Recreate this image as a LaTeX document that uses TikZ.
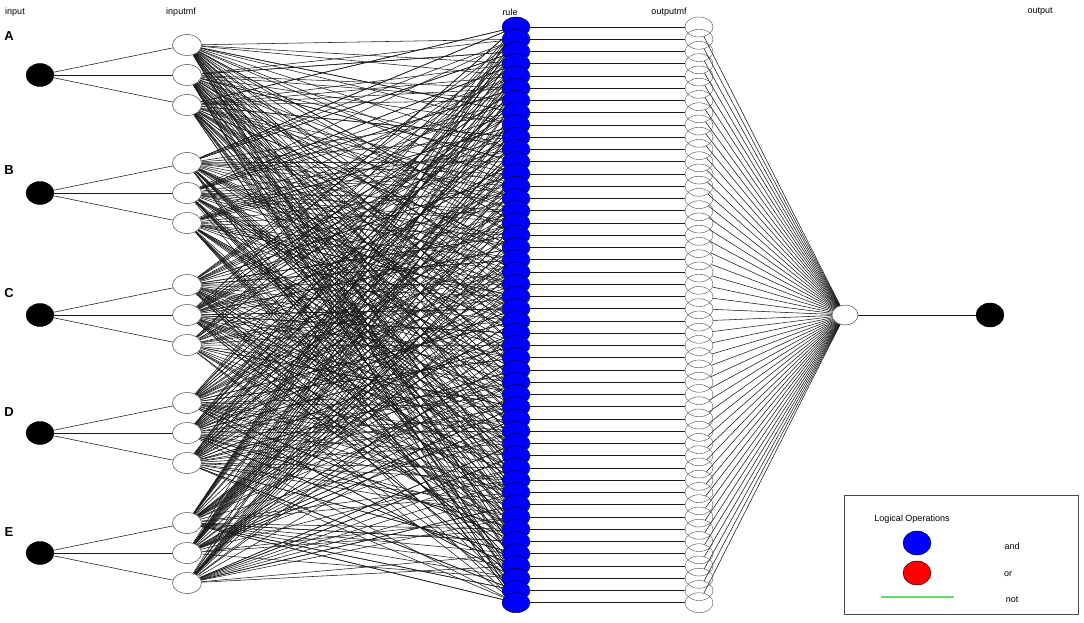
\documentclass[tikz,border=0pt]{standalone}
\usepackage{fontspec}
\setmainfont{Liberation Sans}
\usetikzlibrary{shapes.geometric,backgrounds}

\begin{document}
\begin{tikzpicture}[x=1pt,y=-1pt,
    inode/.style={ellipse,draw,fill=black,minimum width=28pt,minimum height=23pt,inner sep=0pt},
    mfnode/.style={ellipse,draw=black!70,fill=white,minimum width=29pt,minimum height=21pt,inner sep=0pt,line width=0.5pt},
    rulenode/.style={ellipse,draw=black,fill=blue,minimum width=28pt,minimum height=20pt,inner sep=0pt,line width=0.4pt},
    omfnode/.style={ellipse,draw=black!70,minimum width=28pt,minimum height=20pt,inner sep=0pt,line width=0.4pt},
    wire/.style={draw=black!90,line width=0.55pt},
    lbl/.style={font=\fontsize{9}{10}\selectfont,inner sep=0pt},
    letter/.style={font=\fontsize{13}{14}\selectfont\bfseries,inner sep=0pt}]
      \useasboundingbox (0,0) rectangle (1084,623);
      \node[lbl] (tin) at (15,12) {input};
      \node[lbl] (tinmf) at (181,12) {inputmf};
      \node[lbl] (trule) at (510,12) {rule};
      \node[lbl] (toutmf) at (669,12) {outputmf};
      \node[lbl] (tout) at (1040,12) {output};
      \foreach \n/\y/\ly [count=\i] in {A/75/36,B/193/170,C/315/293,D/433/412,E/553/532}{
        \node[inode] (in\i) at (40,\y) {};
        \node[letter] (let\i) at (9,\ly) {\n};
        \foreach \j in {1,2,3}
          \node[mfnode] (mf\i\j) at (187,\y+30*\j-60) {};
      }
      \foreach \r in {1,...,48}
        \node[rulenode] (rule\r) at (516,{14.75+12.25*\r}) {};
      \foreach \r in {1,...,48}
        \node[omfnode] (omf\r) at (699,{14.75+12.25*\r}) {};
      \node[mfnode,minimum width=26pt,minimum height=20pt] (outmf) at (845,315) {};
      \node[inode,minimum height=24pt] (out) at (990,315) {};
      \begin{pgfonlayer}{background}
        \foreach \i in {1,...,5}
          \foreach \j in {1,2,3}
            \draw[wire] (in\i) -- (mf\i\j);
        \foreach \r in {1,...,48}{
          \foreach \i in {1,...,5}{
            \pgfmathtruncatemacro\m{mod(\r*(\i+1)+int(\r/(\i+2)),3)+1}
            \pgfmathtruncatemacro\k{mod(int(\r*(\i+2)/3)+\i,3)+1}
            \draw[wire] (mf\i\m) -- (rule\r);
            \draw[wire] (mf\i\k) -- (rule\r);
          }
          \draw[wire] (rule\r) -- (omf\r);
          \draw[wire] (omf\r) -- (outmf);
        }
        \draw[wire] (outmf) -- (out);
      \end{pgfonlayer}
      \draw[black!70,line width=0.8pt] (844,495) rectangle (1078,614);
      \node[lbl] (lgtitle) at (912,519) {Logical Operations};
      \node[ellipse,draw,fill=blue,minimum width=28pt,minimum height=24pt,inner sep=0pt] (lgand) at (917,543) {};
      \node[ellipse,draw,fill=red,minimum width=28pt,minimum height=24pt,inner sep=0pt] (lgor) at (917,573) {};
      \coordinate (lgnota) at (881,597);
      \coordinate (lgnotb) at (954,597);
      \draw[green!75!black!60!white,line width=1.5pt] (lgnota) -- (lgnotb);
      \node[lbl] (tand) at (1012,546) {and};
      \node[lbl] (tor) at (1008,574) {or};
      \node[lbl] (tnot) at (1012,600) {not};
\end{tikzpicture}
\end{document}
